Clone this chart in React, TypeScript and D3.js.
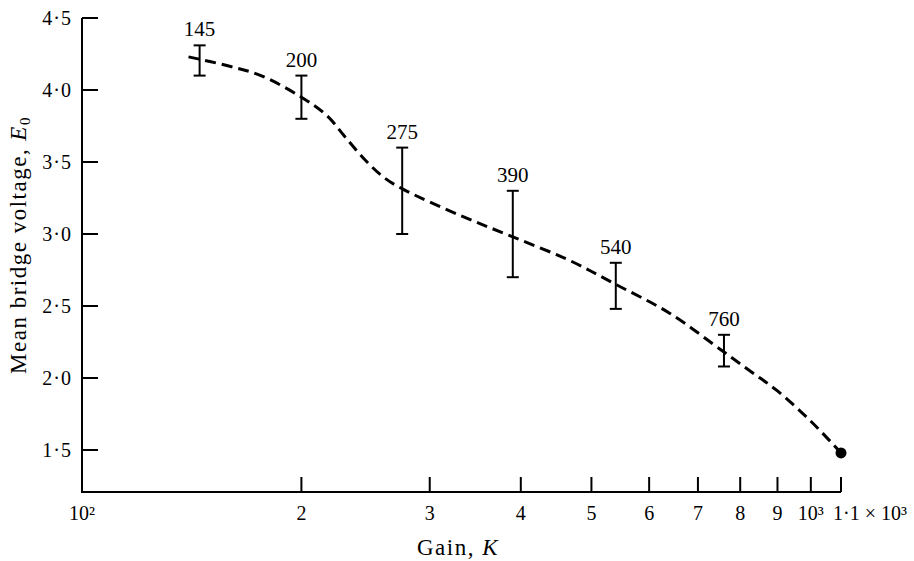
import React from 'react';
import * as d3 from 'd3';

// gain axis (log) ticks
const gainTicks = [100, 200, 300, 400, 500, 600, 700, 800, 900, 1000, 1100];
const gainTickLabels = ['10²', '2', '3', '4', '5', '6', '7', '8', '9', '10³', '1·1 × 10³'];

// voltage axis ticks
const voltTicks = [1.5, 2.0, 2.5, 3.0, 3.5, 4.0, 4.5];
const voltTickLabels = ['1·5', '2·0', '2·5', '3·0', '3·5', '4·0', '4·5'];

// measured points with error bars
const pointGains = [145, 200, 275, 390, 540, 760];
const pointMeans = [4.21, 3.95, 3.31, 2.98, 2.65, 2.18];
const errLow = [4.1, 3.8, 3.0, 2.7, 2.48, 2.08];
const errHigh = [4.31, 4.1, 3.6, 3.3, 2.8, 2.3];

// dashed fitted curve
const curveGains = [140, 158, 176, 200, 217, 230, 245, 260, 276, 330, 390, 465, 540, 640, 760, 830, 900, 1000, 1100];
const curveVolts = [4.23, 4.17, 4.1, 3.95, 3.82, 3.67, 3.51, 3.39, 3.31, 3.13, 2.98, 2.82, 2.65, 2.45, 2.18, 2.04, 1.91, 1.7, 1.48];

// end point
const endGain = 1100;
const endVolt = 1.48;

const W = 914;
const H = 561;
const font = '"Liberation Serif", "DejaVu Serif", serif';

export default function App() {
  const x = d3.scaleLog().domain([100, 1100]).range([82, 841]);
  const y = d3.scaleLinear().domain([1.5, 4.5]).range([450, 18]);
  const axisY = 492;

  const line = d3
    .line<number>()
    .x((g) => x(g))
    .y((_, i) => y(curveVolts[i]))
    .curve(d3.curveCatmullRom.alpha(0.5));

  return (
    <svg
      width={W}
      height={H}
      style={{ position: 'absolute', left: 0, top: 0, background: '#fff' }}
      fontFamily={font}
    >
      {/* axes */}
      <line x1={82} x2={82} y1={y(4.5)} y2={axisY} stroke="#000" strokeWidth={2} />
      <line x1={81} x2={x(1100)} y1={axisY} y2={axisY} stroke="#000" strokeWidth={2} />

      {voltTicks.map((v, i) => (
        <g key={'yt' + i}>
          <line x1={82} x2={98} y1={y(v)} y2={y(v)} stroke="#000" strokeWidth={2} />
          <text x={72} y={y(v)} dy="0.35em" textAnchor="end" fontSize={20} letterSpacing={1}>
            {voltTickLabels[i]}
          </text>
        </g>
      ))}

      {gainTicks.map((g, i) => (
        <g key={'xt' + i}>
          {i > 0 && (
            <line x1={x(g)} x2={x(g)} y1={axisY} y2={axisY - 15} stroke="#000" strokeWidth={2} />
          )}
          <text
            x={i === gainTicks.length - 1 ? x(g) - 8 : x(g)}
            y={axisY + 28}
            textAnchor={i === gainTicks.length - 1 ? 'start' : 'middle'}
            fontSize={20}
          >
            {gainTickLabels[i]}
          </text>
        </g>
      ))}

      {/* axis titles */}
      <text x={458} y={555} textAnchor="middle" fontSize={23} letterSpacing={1.5}>
        Gain, <tspan fontStyle="italic">K</tspan>
      </text>
      <text
        transform={`translate(26,${245}) rotate(-90)`}
        textAnchor="middle"
        fontSize={23}
        letterSpacing={1.5}
      >
        Mean bridge voltage, <tspan fontStyle="italic">E</tspan>
        <tspan fontSize={15} dy={4}>0</tspan>
      </text>

      {/* dashed curve */}
      <path
        d={line(curveGains) || ''}
        fill="none"
        stroke="#000"
        strokeWidth={3}
        strokeDasharray="11 6"
      />

      {/* error bars */}
      {pointGains.map((g, i) => {
        const cx = x(g);
        return (
          <g key={'eb' + i} stroke="#000" strokeWidth={2}>
            <line x1={cx} x2={cx} y1={y(errHigh[i])} y2={y(errLow[i])} />
            <line x1={cx - 6} x2={cx + 6} y1={y(errHigh[i])} y2={y(errHigh[i])} />
            <line x1={cx - 6} x2={cx + 6} y1={y(errLow[i])} y2={y(errLow[i])} />
            <text
              x={cx}
              y={y(errHigh[i]) - 9}
              textAnchor="middle"
              fontSize={21}
              stroke="none"
              fill="#000"
            >
              {g}
            </text>
          </g>
        );
      })}

      <circle cx={x(endGain)} cy={y(endVolt)} r={5.5} fill="#000" />
    </svg>
  );
}
